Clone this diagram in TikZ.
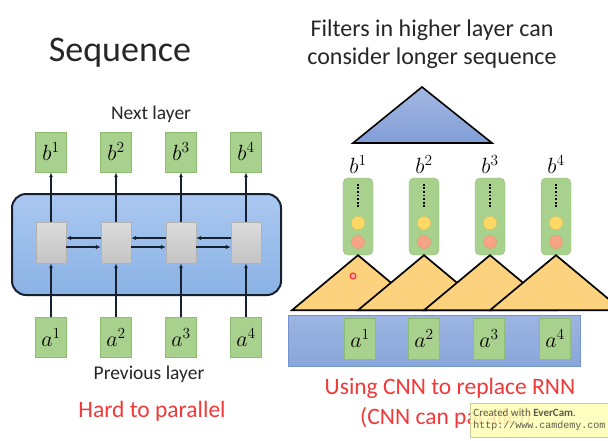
\RequirePackage{fix-cm}
\documentclass[tikz,border=0pt]{standalone}
\usepackage{fontspec}
\setmainfont{Carlito}
\setmonofont{Liberation Mono}
\usetikzlibrary{arrows.meta,positioning}
\definecolor{grnF}{HTML}{A9D18E}
\definecolor{grnB}{HTML}{8FBC74}
\definecolor{blueT}{HTML}{AAC8F1}
\definecolor{blueB}{HTML}{8AB2E4}
\definecolor{navy}{HTML}{17202E}
\definecolor{grayT}{HTML}{DCDCDC}
\definecolor{grayB}{HTML}{C4C4C4}
\definecolor{orng}{HTML}{FDD27E}
\definecolor{triT}{HTML}{A3B8E3}
\definecolor{triB}{HTML}{829ED6}
\definecolor{inT}{HTML}{9CB5E2}
\definecolor{inB}{HTML}{89A6DA}
\definecolor{inD}{HTML}{7393CC}
\definecolor{redT}{HTML}{F03A3A}
\definecolor{yel}{HTML}{FFD966}
\definecolor{yelD}{HTML}{F2C050}
\definecolor{sal}{HTML}{F5A585}
\definecolor{salD}{HTML}{EB8E6E}
\definecolor{wmF}{HTML}{FFFFB8}
\definecolor{wmD}{HTML}{C9C99A}
\definecolor{wmT}{HTML}{5A5A4A}
\tikzset{
  mfont/.style={font=\fontsize{22}{26}\selectfont},
  gbox/.style={draw=grnB, fill=grnF, minimum width=31pt, minimum height=40pt, inner sep=0pt, mfont},
  cell/.style={draw=gray!60, top color=grayT, bottom color=grayB, minimum width=30pt, minimum height=41pt, inner sep=0pt},
  rnnbox/.style={draw=navy, line width=2pt, rounded corners=14pt, top color=blueT, bottom color=blueB, minimum width=269pt, minimum height=101pt, inner sep=0pt},
  varr/.style={draw=navy, line width=1.3pt, -{Latex[length=5pt,width=4pt]}},
  harr/.style={draw=navy, line width=1.6pt, -{Latex[length=5pt,width=4.5pt]}},
  lbl/.style={font=\fontsize{19.5}{23}\selectfont, text=black!85, inner sep=0pt},
  redlbl/.style={font=\fontsize{23.5}{28}\selectfont, text=redT, inner sep=0pt},
  grect/.style={draw=grnB, fill=grnF, rounded corners=5pt, minimum width=30pt, minimum height=77pt, inner sep=0pt},
  blab/.style={mfont, inner sep=0pt},
  dotline/.style={line width=1.8pt, dash pattern=on 1.8pt off 1.8pt},
  ycirc/.style={circle, draw=yelD, fill=yel, minimum size=13pt, inner sep=0pt},
  scirc/.style={circle, draw=salD, fill=sal, minimum size=13pt, inner sep=0pt},
  otri/.style={draw=black, line width=1.7pt, fill=orng, line join=miter},
  ttri/.style={draw=black, line width=1.6pt, top color=triT, bottom color=triB},
  inbox/.style={draw=inD, top color=inT, bottom color=inB, minimum width=292pt, minimum height=51pt, inner sep=0pt},
  wm/.style={draw=wmD, fill=wmF, fill opacity=0.88, text opacity=1, text=wmT, minimum width=135pt, minimum height=34pt, inner sep=3pt, align=left},
  cursor/.style={circle, draw=red!85, line width=1pt, fill=red!35, minimum size=6pt, inner sep=0pt}
}
\begin{document}
\begin{tikzpicture}[x=1pt,y=-1pt]
\useasboundingbox (0,0) rectangle (608,440);
\clip (0,0) rectangle (608,440);
\fill[white] (0,0) rectangle (608,440);
% ---------- left: RNN ----------
\node[font=\fontsize{36}{40}\selectfont, text=black!85, inner sep=0pt] (seq) at (120,53) {Sequence};
\node[lbl] (next) at (151,114) {Next layer};
\node[rnnbox] (rnn) at (146.5,244.5) {};
\foreach \i/\x in {1/51,2/116,3/181,4/246} {
  \node[gbox] (b\i) at (\x,152) {$b^{\i}$};
  \node[cell] (c\i) at (\x,242.5) {};
  \node[gbox] (a\i) at (\x,337.5) {$a^{\i}$};
}
\foreach \i in {1,...,4} {
  \draw[varr] (a\i) -- (c\i);
  \draw[varr] (c\i) -- (b\i);
}
\foreach \i/\j in {1/2,2/3,3/4} {
  \draw[harr] ([yshift=4.5pt]c\j.west) -- ([yshift=4.5pt]c\i.east);
  \draw[harr] ([yshift=-4.5pt]c\i.east) -- ([yshift=-4.5pt]c\j.west);
}
\node[lbl] (prev) at (149,374) {Previous layer};
\node[redlbl] (hard) at (152,411) {Hard to parallel};
% ---------- right: CNN ----------
\node[font=\fontsize{24}{28}\selectfont, text=black!85, align=center, inner sep=0pt] (filt) at (432,44) {Filters in higher layer can\\consider longer sequence};
\draw[ttri] (422,87) -- (492,143) -- (353,143) -- cycle;
\foreach \i/\x in {1/358,2/424,3/490,4/556} {
  \node[grect] (h\i) at (\x,216.5) {};
  \node[blab, above=4pt of h\i] (hl\i) {$b^{\i}$};
  \draw[dotline] ([yshift=-6pt]h\i.north) -- ++(0,25);
  \node[ycirc] (y\i) at (\x,223) {};
  \node[scirc] (s\i) at (\x,242) {};
}
\foreach \i in {1,...,4} {
  \draw[otri] (h\i.south) -- ++(66,55) -- ++(-132,0) -- cycle;
}
\node[cursor] (cur) at (353,276) {};
\node[inbox] (inp) at (434,340.5) {};
\foreach \i/\x in {1/360,2/424,3/489,4/555} {
  \node[gbox, minimum height=41pt] (ia\i) at (\x,338.5) {$a^{\i}$};
}
\node[redlbl] (use) at (450,388) {Using CNN to replace RNN};
\node[redlbl] (can) at (446,418) {(CNN can parallel)};
\node[wm] (wmk) at (539.5,420) {{\fontsize{11}{12.5}\selectfont Created with \textbf{EverCam}.}\\{\ttfamily\fontsize{10}{12}\selectfont http://www.camdemy.com}};
\end{tikzpicture}
\end{document}
